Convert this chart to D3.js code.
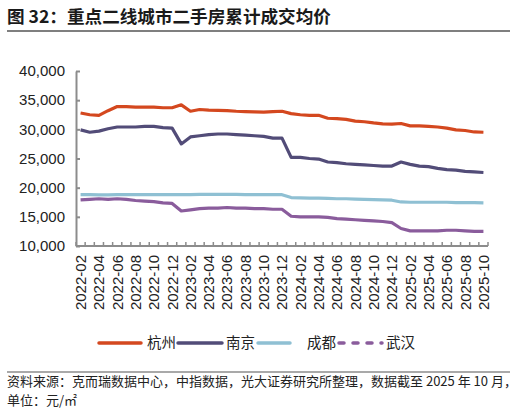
<!DOCTYPE html>
<html lang="zh">
  <head>
    <meta charset="UTF-8" />
    <title>重点二线城市二手房累计成交均价</title>
    <style>
      body { margin: 0; background: #fff; }
      svg { display: block; }
    </style>
  </head>
  <body>
    <svg id="svg" width="516" height="413"></svg>

    <script src="https://d3js.org/d3.v7.min.js"></script>
    <script>
      // months 2022-02 .. 2025-10
      const months = [];
      for (let yr = 2022; yr <= 2025; yr++) {
        for (let m = 1; m <= 12; m++) {
          if ((yr === 2022 && m < 2) || (yr === 2025 && m > 10)) continue;
          months.push(yr + "-" + String(m).padStart(2, "0"));
        }
      }
      const tickLabels = months.filter((d, i) => i % 2 === 0);
      const yTicks = [10000, 15000, 20000, 25000, 30000, 35000, 40000];

      const hangzhou = [32800, 32500, 32400, 33200, 33900, 33900, 33800, 33800, 33800, 33700, 33700, 34200,
        33100, 33400, 33300, 33250, 33200, 33100, 33050, 33000, 32950, 33050, 33100, 32700,
        32500, 32400, 32400, 31900, 31850, 31700, 31400, 31300, 31100, 30950, 30900, 31000,
        30600, 30600, 30500, 30400, 30200, 29900, 29800, 29550, 29500];
      const nanjing = [29900, 29500, 29700, 30100, 30400, 30400, 30400, 30500, 30500, 30300, 30200, 27500,
        28700, 28900, 29100, 29200, 29200, 29100, 29000, 28900, 28800, 28500, 28500, 25200,
        25200, 25000, 24900, 24400, 24300, 24100, 24000, 23900, 23800, 23700, 23700, 24400,
        24000, 23700, 23600, 23300, 23100, 23000, 22800, 22700, 22600];
      const chengdu = [18800, 18800, 18750, 18750, 18800, 18800, 18800, 18800, 18800, 18800, 18800, 18800,
        18800, 18850, 18850, 18850, 18850, 18850, 18800, 18800, 18800, 18800, 18800, 18300,
        18250, 18200, 18200, 18150, 18100, 18100, 18050, 18000, 17950, 17900, 17850, 17550,
        17500, 17500, 17500, 17500, 17500, 17450, 17450, 17450, 17400];
      const wuhan = [17900, 18000, 18100, 18000, 18100, 18000, 17800, 17700, 17600, 17400, 17300, 16000,
        16200, 16400, 16500, 16500, 16600, 16500, 16500, 16400, 16400, 16300, 16300, 15100,
        15000, 15000, 15000, 14900, 14700, 14600, 14500, 14400, 14300, 14200, 14000, 13000,
        12600, 12600, 12600, 12600, 12700, 12700, 12600, 12500, 12500];

      const seriesNames = ["杭州", "南京", "成都", "武汉"];
      const seriesValues = [hangzhou, nanjing, chengdu, wuhan];
      const colors = ["#d4481f", "#524c78", "#8fc0d3", "#8a5c9c"];

      const svg = d3.select("#svg");
      const plotL = 76, plotR = 488, plotT = 71, plotB = 246;

      // title
      svg.append("text")
        .attr("x", 7).attr("y", 23)
        .attr("font-family", "'Noto Sans CJK SC', sans-serif")
        .attr("font-weight", "bold").attr("font-size", 17.6).attr("fill", "#1a1a1a")
        .text("图 32：重点二线城市二手房累计成交均价");
      svg.append("line")
        .attr("x1", 7).attr("x2", 510).attr("y1", 31).attr("y2", 31)
        .attr("stroke", "#555").attr("stroke-width", 1.5);

      const x = d3.scaleBand().domain(months).range([plotL, plotR]).padding(0);
      const y = d3.scaleLinear().domain([10000, 40000]).range([plotB, plotT]);
      const cx = (d) => x(d) + x.bandwidth() / 2;

      // y axis
      const yAxis = svg.append("g")
        .attr("transform", `translate(${plotL},0)`)
        .call(d3.axisLeft(y).tickValues(yTicks).tickFormat(d3.format(","))
          .tickSize(-4).tickSizeOuter(0).tickPadding(11));
      yAxis.selectAll("path, line").attr("stroke", "#8c8c8c").attr("stroke-width", 2);
      yAxis.selectAll("text")
        .attr("font-family", "'Liberation Sans', Arial, sans-serif")
        .attr("font-size", 15).attr("fill", "#222");

      // x axis line + boundary ticks
      const xg = svg.append("g");
      xg.append("line")
        .attr("x1", plotL).attr("x2", plotR).attr("y1", plotB).attr("y2", plotB)
        .attr("stroke", "#8c8c8c").attr("stroke-width", 2);
      xg.selectAll("line.tick")
        .data(months.map((m) => x(m)).concat([plotR]))
        .enter().append("line")
        .attr("class", "tick")
        .attr("x1", (d) => d).attr("x2", (d) => d)
        .attr("y1", plotB).attr("y2", plotB - 4)
        .attr("stroke", "#8c8c8c").attr("stroke-width", 1.5);

      const xAxis = svg.append("g")
        .attr("transform", `translate(0,${plotB})`)
        .call(d3.axisBottom(x).tickValues(tickLabels).tickSize(0));
      xAxis.select(".domain").remove();
      xAxis.selectAll("text")
        .attr("transform", "rotate(-90)")
        .attr("x", -9).attr("y", 0).attr("dy", "0.36em")
        .attr("text-anchor", "end")
        .attr("font-family", "'Liberation Sans', Arial, sans-serif")
        .attr("font-size", 15).attr("fill", "#222");

      // lines
      const line = d3.line().x((d, i) => cx(months[i])).y((d) => y(d));
      svg.selectAll("path.series")
        .data(seriesValues)
        .enter().append("path")
        .attr("class", "series")
        .attr("d", line)
        .attr("fill", "none")
        .attr("stroke", (d, i) => colors[i])
        .attr("stroke-width", 3.2)
        .attr("stroke-linejoin", "round");

      // legend
      const legend = [
        { x1: 99, x2: 141, tx: 147 },
        { x1: 178, x2: 222, tx: 226 },
        { x1: 258, x2: 290, tx: 307 },
        { x1: 339, x2: 382, tx: 386 },
      ];
      const lg = svg.append("g");
      legend.forEach((p, i) => {
        lg.append("line")
          .attr("x1", p.x1).attr("x2", p.x2).attr("y1", 343).attr("y2", 343)
          .attr("stroke", colors[i]).attr("stroke-width", 3.5)
          .attr("stroke-linecap", "round")
          .attr("stroke-dasharray", i === 3 ? "5,9" : null);
        lg.append("text")
          .attr("x", p.tx).attr("y", 348)
          .attr("font-family", "'Noto Sans CJK SC', sans-serif")
          .attr("font-size", 14.5).attr("fill", "#222")
          .text(seriesNames[i]);
      });

      // footnote
      svg.append("line")
        .attr("x1", 7).attr("x2", 510).attr("y1", 372).attr("y2", 372)
        .attr("stroke", "#555").attr("stroke-width", 1.2);
      svg.append("text")
        .attr("x", 7).attr("y", 386)
        .attr("font-family", "'Noto Sans CJK SC', sans-serif")
        .attr("font-size", 13).attr("fill", "#222")
        .text("资料来源：克而瑞数据中心，中指数据，光大证券研究所整理，数据截至 2025 年 10 月，");
      svg.append("text")
        .attr("x", 7).attr("y", 405)
        .attr("font-family", "'Noto Sans CJK SC', sans-serif")
        .attr("font-size", 13).attr("fill", "#222")
        .text("单位：元/㎡");
    </script>
  </body>
</html>
